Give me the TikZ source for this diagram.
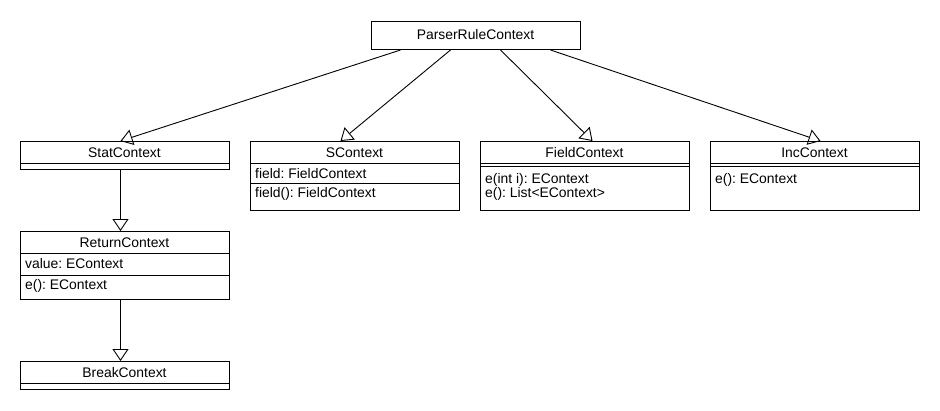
\documentclass[tikz,border=0pt]{standalone}
\usepackage{fontspec}
\setmainfont{Liberation Sans}
\usetikzlibrary{arrows.meta}
\frenchspacing
\begin{document}
\begin{tikzpicture}[x=1pt,y=-1pt,
 box/.style={draw, line width=1pt, anchor=north west, inner sep=0pt, minimum width=209pt},
 title/.style={font=\fontsize{13.9}{16}\selectfont\frenchspacing, inner sep=0pt, anchor=center},
 member/.style={font=\fontsize{13.9}{16}\selectfont\frenchspacing, inner sep=0pt, anchor=west},
 sep/.style={line width=1pt},
 inh/.style={line width=0.9pt, -{Triangle[open,length=12pt,width=16pt]}}]
\fill[white] (0,0) rectangle (940,410);
\useasboundingbox (0,0) rectangle (940,410);

% ParserRuleContext
\node[box, minimum height=28pt] (prc) at (371,21) {};
\node[title] (prct) at (475.5,35) {ParserRuleContext};

% StatContext
\node[box, minimum height=28pt] (stat) at (20,141) {};
\node[title] (statt) at (124.5,152.5) {StatContext};
\draw[sep] (20,163) -- (229,163);

% SContext
\node[box, minimum height=69pt] (sctx) at (250,141) {};
\node[title] (sctxt) at (354.5,152.5) {SContext};
\draw[sep] (250,163) -- (459,163);
\draw[sep] (250,183) -- (459,183);
\node[member] (sctxa) at (255,173.5) {field: FieldContext};
\node[member] (sctxm) at (255,193.5) {field(): FieldContext};

% FieldContext
\node[box, minimum height=69pt] (field) at (480,141) {};
\node[title] (fieldt) at (584.5,152.5) {FieldContext};
\draw[sep] (480,163) -- (689,163);
\draw[sep] (480,166.5) -- (689,166.5);
\node[member] (fieldm1) at (485,180) {e(int i): EContext};
\node[member] (fieldm2) at (485,194) {e(): List<EContext>};

% IncContext
\node[box, minimum height=69pt] (inc) at (710,141) {};
\node[title] (inct) at (814.5,152.5) {IncContext};
\draw[sep] (710,163) -- (919,163);
\draw[sep] (710,166.5) -- (919,166.5);
\node[member] (incm) at (715,180) {e(): EContext};

% ReturnContext
\node[box, minimum height=68pt] (ret) at (20,231) {};
\node[title] (rett) at (124.5,242.5) {ReturnContext};
\draw[sep] (20,253) -- (229,253);
\draw[sep] (20,275) -- (229,275);
\node[member] (reta) at (25,264) {value: EContext};
\node[member] (retm) at (25,285.5) {e(): EContext};

% BreakContext
\node[box, minimum height=28pt] (brk) at (20,361) {};
\node[title] (brkt) at (124.5,372.5) {BreakContext};
\draw[sep] (20,383) -- (229,383);

% Inheritance arrows
\draw[inh] ([xshift=-75.5pt]prc.south) -- ([xshift=-4.5pt]stat.north);
\draw[inh] ([xshift=-25.5pt]prc.south) -- ([xshift=-14.5pt]sctx.north);
\draw[inh] ([xshift=24.5pt]prc.south) -- ([xshift=7.5pt]field.north);
\draw[inh] ([xshift=74.5pt]prc.south) -- ([xshift=5.5pt]inc.north);
\draw[inh] ([xshift=-4.5pt]stat.south) -- ([xshift=-4.5pt]ret.north);
\draw[inh] ([xshift=-4.5pt]ret.south) -- ([xshift=-4.5pt]brk.north);
\end{tikzpicture}
\end{document}
